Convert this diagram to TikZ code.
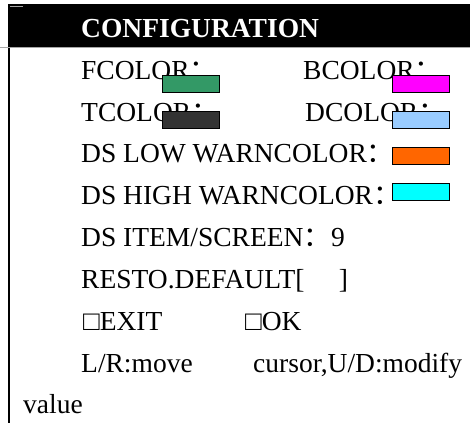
\documentclass[tikz,border=0pt]{standalone}
\usepackage{fontspec}
\setmainfont{Liberation Serif}
\newfontfamily\cjk{Noto Sans CJK SC}
\usepackage{tikz}
\usepackage{xcolor}
\definecolor{fgreen}{HTML}{339966}
\definecolor{bmagenta}{HTML}{FF00FF}
\definecolor{tdark}{HTML}{333333}
\definecolor{dblue}{HTML}{99CCFF}
\definecolor{loworange}{HTML}{FF6600}
\definecolor{highcyan}{HTML}{00FFFF}
\newcommand{\wcolon}{{\cjk ：}}
\tikzset{
    entry/.style={
           anchor=base west,
           inner sep=0pt,
           font=\fontsize{27.5}{33}\selectfont,
           },
    headline/.style={
           entry,
           text=white,
           font=\fontsize{27.5}{33}\selectfont\bfseries,
           },
    swatch/.style={
           rectangle,
           draw=black, line width=1.5pt,
           minimum width=57pt,
           minimum height=17pt,
           inner sep=0pt,
           anchor=north west,
           },
}

\begin{document}
\begin{tikzpicture}[x=1pt,y=-1pt]
    \useasboundingbox (0,0) rectangle (470,423);

    % title bar and frame
    \fill[black] (8,4) rectangle (470,47);
    \draw[gray!70, line width=0.8pt] (10,6) -- (23,6);
    \draw[gray!70, line width=0.8pt] (0,47) -- (470,47);
    \draw[line width=2pt] (9,48) -- (9,423);
    \node[headline] (title) at (81,37) {CONFIGURATION};

    % menu entries
    \node[entry] (fcol) at (81,79) {FCOLOR\wcolon};
    \node[entry] (bcol) at (303,79) {BCOLOR\wcolon};
    \node[entry] (tcol) at (81,121) {TCOLOR\wcolon};
    \node[entry] (dcol) at (305,121) {DCOLOR\wcolon};
    \node[entry] (lowwarn) at (81,162) {DS LOW WARNCOLOR\wcolon};
    \node[entry] (highwarn) at (81,204) {DS HIGH WARNCOLOR\wcolon};
    \node[entry] (items) at (81,246) {DS ITEM/SCREEN\wcolon 9};
    \node[entry] (resto) at (81,288) {RESTO.DEFAULT[\quad\ ]};
    \node[entry] (exit) at (83,330) {□EXIT};
    \node[entry] (ok) at (245,330) {□OK};
    \node[entry] (move) at (81,372) {L/R:move};
    \node[entry] (cursor) at (253,372) {cursor,U/D:modify};
    \node[entry] (value) at (23,413) {value};

    % colour samples (drawn over the text)
    \node[swatch, fill=fgreen] (fsample) at (161.5,74.5) {};
    \node[swatch, fill=bmagenta] (bsample) at (391.5,74.5) {};
    \node[swatch, fill=tdark] (tsample) at (161.5,110.5) {};
    \node[swatch, fill=dblue] (dsample) at (391.5,110.5) {};
    \node[swatch, fill=loworange] (lowsample) at (391.5,146.5) {};
    \node[swatch, fill=highcyan] (highsample) at (391.5,182.5) {};
\end{tikzpicture}
\end{document}
